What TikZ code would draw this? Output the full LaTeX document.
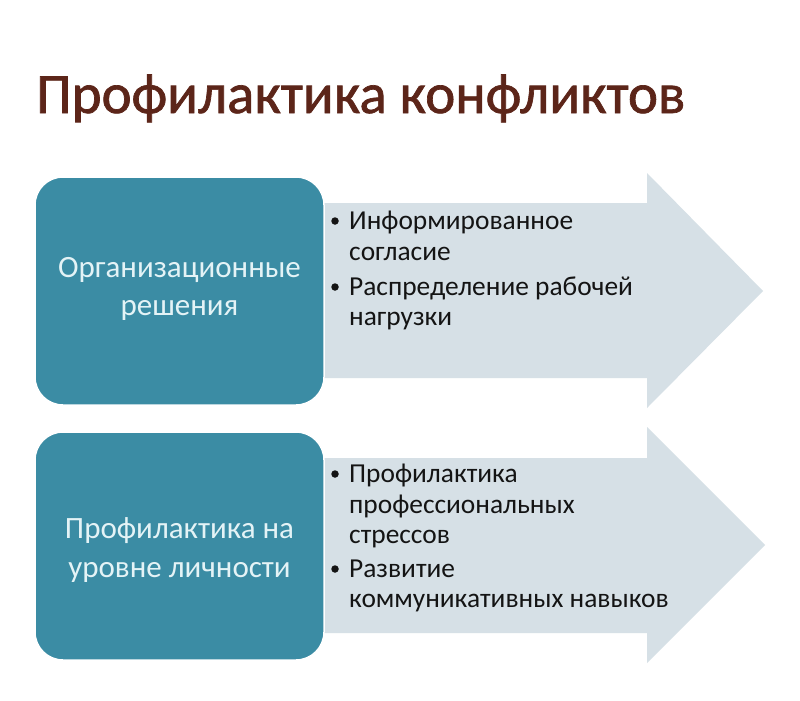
\documentclass[tikz,border=0pt]{standalone}
\usepackage{fontspec}
\setmainfont{Carlito}
\newfontfamily\titlefont[FakeBold=1.2]{Carlito}
\definecolor{teal1}{HTML}{3B8CA4}
\definecolor{boxtext}{HTML}{E4F3F6}
\definecolor{arrowfill}{HTML}{D6E0E6}
\definecolor{titlecol}{HTML}{5C2519}
\definecolor{bodytext}{HTML}{141414}
\tikzset{
  teacherbox/.style={fill=teal1, draw=white, line width=1.5pt, rounded corners=28pt},
  bigarrow/.style={fill=arrowfill, draw=none},
  boxlabel/.style={anchor=base, inner sep=0pt, text=boxtext, font=\fontsize{31}{38}\selectfont},
  itemline/.style={anchor=base west, inner sep=0pt, text=bodytext, font=\fontsize{27.4}{31}\selectfont},
  bulletdot/.style={circle, fill=bodytext, inner sep=0pt, minimum size=7.5pt},
  titlestyle/.style={anchor=base west, inner sep=0pt, text=titlecol, font=\titlefont\fontsize{57}{60}\selectfont}
}
\begin{document}
\begin{tikzpicture}[x=1pt,y=-1pt]
\useasboundingbox[fill=white] (0,0) rectangle (800,701);
% title
\node[titlestyle] (title) at (36,113) {Профилактика конфликтов};
% arrows
\path[bigarrow] (300,203) -- (647,203) -- (647,173) -- (763,291) -- (647,408) -- (647,378) -- (300,378) -- cycle;
\path[bigarrow] (300,458) -- (647,458) -- (647,427) -- (765,545) -- (647,663) -- (647,633) -- (300,633) -- cycle;
% boxes
\path[teacherbox] (35,177) rectangle (324,405);
\path[teacherbox] (35,432) rectangle (324,660);
% box labels
\node[boxlabel] (b1a) at (179.5,277) {Организационные};
\node[boxlabel] (b1b) at (179.5,315) {решения};
\node[boxlabel] (b2a) at (179.5,538) {Профилактика на};
\node[boxlabel] (b2b) at (179.5,577) {уровне личности};
% bullets top
\node[bulletdot] (d1) at (335,221) {};
\node[itemline] (t1a) at (349,229) {Информированное};
\node[itemline] (t1b) at (349,260) {согласие};
\node[bulletdot] (d2) at (335,287) {};
\node[itemline] (t2a) at (349,295) {Распределение рабочей};
\node[itemline] (t2b) at (349,325) {нагрузки};
% bullets bottom
\node[bulletdot] (d3) at (335,474) {};
\node[itemline] (t3a) at (349,482) {Профилактика};
\node[itemline] (t3b) at (349,513) {профессиональных};
\node[itemline] (t3c) at (349,543) {стрессов};
\node[bulletdot] (d4) at (335,569) {};
\node[itemline] (t4a) at (349,577) {Развитие};
\node[itemline] (t4b) at (349,607) {коммуникативных навыков};
\end{tikzpicture}
\end{document}
